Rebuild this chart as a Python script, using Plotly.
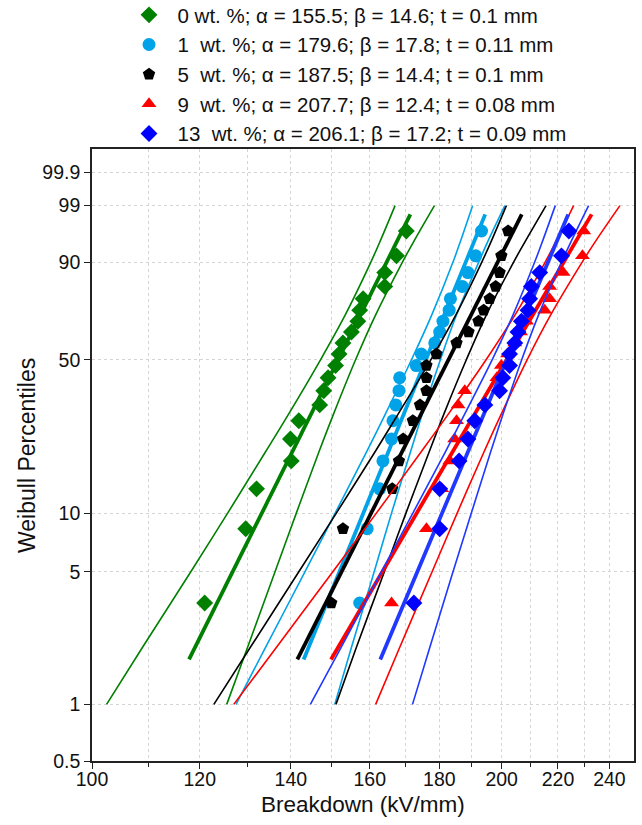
import numpy as np
import plotly.graph_objects as go

# Median-rank plotting positions (percent) shared by every sample of 20 specimens
RANK_PCT = [3.431, 8.333, 13.235, 18.137, 23.039, 27.941, 32.843, 37.745, 42.647, 47.549,
            52.451, 57.353, 62.255, 67.157, 72.059, 76.961, 81.863, 86.765, 91.667, 96.569]

# Measured breakdown strengths (kV/mm), sorted
kv_0 = [121.0, 129.7, 132.1, 140.1, 139.9, 141.9, 147.0, 148.0, 149.1, 151.0,
        151.9, 152.9, 155.1, 156.8, 157.3, 158.2, 164.1, 164.1, 167.4, 170.2]
kv_1 = [157.3, 159.3, 162.7, 163.6, 166.0, 166.4, 167.2, 168.1, 168.3, 173.1,
        174.6, 178.6, 180.1, 181.1, 183.0, 183.4, 187.1, 188.9, 191.4, 193.3]
kv_5 = [149.9, 152.9, 166.2, 168.1, 169.3, 172.1, 174.2, 176.1, 176.1, 176.1,
        179.1, 185.3, 189.1, 192.3, 194.0, 196.0, 198.0, 199.3, 199.9, 202.2]
kv_9 = [166.0, 176.1, 180.7, 183.2, 184.7, 185.3, 185.8, 187.9, 198.4, 199.9,
        202.0, 204.5, 206.5, 208.6, 215.1, 216.9, 216.9, 221.9, 229.3, 229.8]
kv_13 = [172.4, 180.1, 180.1, 186.1, 188.9, 191.1, 194.4, 199.3, 200.4, 202.7,
         202.7, 204.5, 205.6, 206.8, 209.1, 209.7, 210.3, 213.3, 221.3, 224.1]

# Weibull fit parameters (scale alpha in kV/mm, shape beta)
alpha = [155.5, 179.6, 187.5, 207.7, 206.1]
beta = [14.6, 17.8, 14.4, 12.4, 17.2]
labels = [
    "0 wt. %; \u03b1 = 155.5; \u03b2 = 14.6; t = 0.1 mm",
    "1\u00a0 wt. %; \u03b1 = 179.6; \u03b2 = 17.8; t = 0.11 mm",
    "5\u00a0 wt. %; \u03b1 = 187.5; \u03b2 = 14.4; t = 0.1 mm",
    "9\u00a0 wt. %; \u03b1 = 207.7; \u03b2 = 12.4; t = 0.08 mm",
    "13\u00a0 wt. %; \u03b1 = 206.1; \u03b2 = 17.2; t = 0.09 mm",
]
FIT_SPAN_PCT = [1.73, 98.4]

# 90 % confidence limits (kV/mm) at these percentiles
BAND_PCT = [1, 2, 5, 10, 20, 30, 50, 70, 90, 95, 99]
lo_0 = [102.5, 108.9, 118.2, 125.8, 134.1, 139.5, 147.2, 153.5, 160.3, 162.9, 167.0]
hi_0 = [125.6, 130.1, 136.3, 141.3, 146.8, 150.5, 156.2, 161.6, 169.1, 172.5, 178.5]
lo_1 = [127.6, 134.1, 143.4, 150.9, 159.1, 164.3, 171.7, 177.7, 184.2, 186.6, 190.4]
hi_1 = [150.8, 155.1, 161.2, 166.0, 171.4, 174.9, 180.3, 185.3, 192.4, 195.5, 201.1]
lo_5 = [122.9, 130.7, 141.9, 151.2, 161.4, 167.9, 177.4, 185.1, 193.4, 196.6, 201.6]
hi_5 = [151.1, 156.4, 164.0, 170.1, 176.9, 181.4, 188.4, 194.9, 204.1, 208.3, 215.6]
lo_9 = [127.1, 136.6, 150.3, 161.8, 174.5, 182.8, 194.8, 204.6, 215.3, 219.4, 225.9]
hi_9 = [161.6, 168.3, 177.8, 185.5, 194.1, 199.9, 208.8, 217.3, 229.2, 234.6, 244.3]
lo_13 = [144.7, 152.4, 163.2, 172.1, 181.8, 187.9, 196.8, 203.9, 211.5, 214.4, 219.0]
hi_13 = [172.0, 177.1, 184.2, 190.0, 196.3, 200.5, 206.9, 212.9, 221.3, 225.1, 231.7]

samples = [kv_0, kv_1, kv_5, kv_9, kv_13]
bands = [(lo_0, hi_0), (lo_1, hi_1), (lo_5, hi_5), (lo_9, hi_9), (lo_13, hi_13)]
marker_colors = ["#008000", "#00A2E8", "#000000", "#FF0000", "#0000FF"]
line_colors = ["#008000", "#00A2E8", "#000000", "#FF0000", "#2038FF"]
symbols = ["diamond", "circle", "pentagon", "triangle-up", "diamond"]
sizes = [13, 13, 13, 13, 13]

Y_TICK_PCT = [0.5, 1, 5, 10, 50, 90, 99, 99.9]
X_TICKS = [100, 120, 140, 160, 180, 200, 220, 240]
X_MINOR = [110, 130, 150, 170, 190, 210, 230]


def wy(pct):
    """Weibull probability-paper ordinate: ln(-ln(1 - F))."""
    p = np.asarray(pct, dtype=float) / 100.0
    return np.log(-np.log(1.0 - p))


FONT = "Liberation Sans, Arial, sans-serif"
fig = go.Figure()

for k in range(5):
    lo, hi = bands[k]
    for bound in (lo, hi):
        fig.add_trace(go.Scatter(
            x=bound, y=wy(BAND_PCT), mode="lines", showlegend=False, hoverinfo="skip",
            line=dict(color=line_colors[k], width=1.6, shape="spline", smoothing=1.0)))
    ys = wy(FIT_SPAN_PCT)
    xs = alpha[k] * np.exp(ys / beta[k])
    fig.add_trace(go.Scatter(
        x=xs, y=ys, mode="lines", showlegend=False, hoverinfo="skip",
        line=dict(color=line_colors[k], width=3.8)))
    fig.add_trace(go.Scatter(
        x=samples[k], y=wy(RANK_PCT), mode="markers", name=labels[k],
        marker=dict(symbol=symbols[k], size=sizes[k], color=marker_colors[k],
                    line=dict(width=0))))

axis_common = dict(showline=True, linecolor="#222222", linewidth=1.6, mirror=True,
                   ticks="outside", tickcolor="#222222", tickwidth=1.4, ticklen=6,
                   showgrid=True, gridcolor="#d4d4d4", gridwidth=1, griddash="dot",
                   zeroline=False, tickfont=dict(family=FONT, size=19.5, color="#111111"))

fig.update_xaxes(type="log", range=[np.log10(100), np.log10(250.2)],
                 tickvals=X_TICKS, ticktext=[str(v) for v in X_TICKS],
                 ticklabelstandoff=-6,
                 minor=dict(tickvals=X_MINOR, ticks="outside", ticklen=4, tickwidth=1.4,
                            tickcolor="#222222", showgrid=True, gridcolor="#d4d4d4",
                            griddash="dot", gridwidth=1),
                 **axis_common)
fig.update_yaxes(range=[float(wy(0.5)), 2.223], tickvals=wy(Y_TICK_PCT),
                 ticktext=[("%g" % v) for v in Y_TICK_PCT], **axis_common)

fig.add_annotation(text="Breakdown (kV/mm)", xref="paper", yref="paper", x=0.5, y=-0.071,
                   xanchor="center", yanchor="middle", showarrow=False,
                   font=dict(family=FONT, size=22.5, color="#111111"))
fig.add_annotation(text="Weibull Percentiles", xref="paper", yref="paper", x=-0.12, y=0.5,
                   xanchor="center", yanchor="middle", textangle=-90, showarrow=False,
                   font=dict(family=FONT, size=23, color="#111111"))

fig.update_layout(
    width=642, height=825,
    margin=dict(l=92, r=8, t=149, b=64, autoexpand=False),
    plot_bgcolor="white", paper_bgcolor="white",
    legend=dict(x=0.0526, y=1.2516, xanchor="left", yanchor="top", bgcolor="rgba(0,0,0,0)",
                itemwidth=47, font=dict(family=FONT, size=20.5, color="#111111"),
                tracegroupgap=0),
)

fig.write_html("out.html")
